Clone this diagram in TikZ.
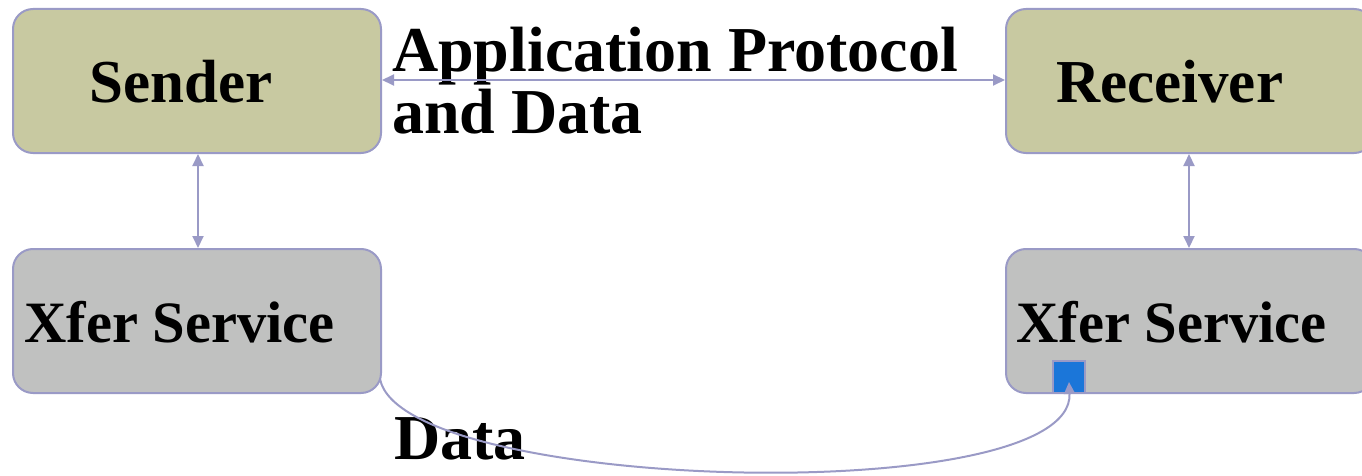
\documentclass[tikz,border=0pt]{standalone}
\usepackage{fontspec}
\setmainfont{Liberation Serif}
\usetikzlibrary{arrows.meta}
\definecolor{edge}{HTML}{9A9AC6}
\definecolor{olive}{HTML}{C8C9A1}
\definecolor{greybox}{HTML}{C0C1C0}
\definecolor{marker}{HTML}{1B76D9}
\tikzset{
  box/.style={draw=edge, line width=2pt, rounded corners=20pt, inner sep=0pt, minimum width=368pt, minimum height=144pt},
  app/.style={box, fill=olive},
  svc/.style={box, fill=greybox},
  lbl/.style={font=\bfseries\fontsize{#1}{#1}\selectfont, inner sep=0pt, anchor=base west, text=black},
  link/.style={draw=edge, line width=2pt, {Triangle[length=12pt,width=11pt]}-{Triangle[length=12pt,width=11pt]}},
  flow/.style={draw=edge, line width=2pt, -{Triangle[length=12pt,width=11pt]}},
}
\begin{document}
\begin{tikzpicture}[x=1pt,y=-1pt]
\useasboundingbox (0,0) rectangle (1362,476);
\clip (0,0) rectangle (1362,476);
% layer boxes
\node[app] (snd) at (197,81) {};
\node[app] (rcv) at (1190,81) {};
\node[svc] (xl) at (197,321) {};
\node[svc] (xr) at (1190,321) {};
% labels
\node[lbl=61] (tsnd) at (89,103) {Sender};
\node[lbl=61] (trcv) at (1056,103) {Receiver};
\node[lbl=58.6] (txl) at (24,342) {Xfer Service};
\node[lbl=58.6] (txr) at (1016,342) {Xfer Service};
\node[lbl=64] (tap1) at (392,72) {Application Protocol};
\node[lbl=64] (tap2) at (392,133) {and Data};
\node[lbl=64] (tdat) at (394,459) {Data};
% receive marker
\node[draw=edge, line width=2pt, fill=marker, minimum width=32pt, minimum height=32pt, inner sep=0pt] (mk) at (1069,377) {};
% connectors
\draw[link] (snd.east |- 0,80) -- (rcv.west |- 0,80);
\draw[link] (snd.south -| 198,0) -- (xl.north -| 198,0);
\draw[link] (rcv.south -| 1189,0) -- (xr.north -| 1189,0);
\coordinate (cstart) at (380,379);
\coordinate (cend) at (1069,382);
\draw[flow] (cstart) .. controls (402,492) and (1075,510) .. (cend);
\end{tikzpicture}
\end{document}
